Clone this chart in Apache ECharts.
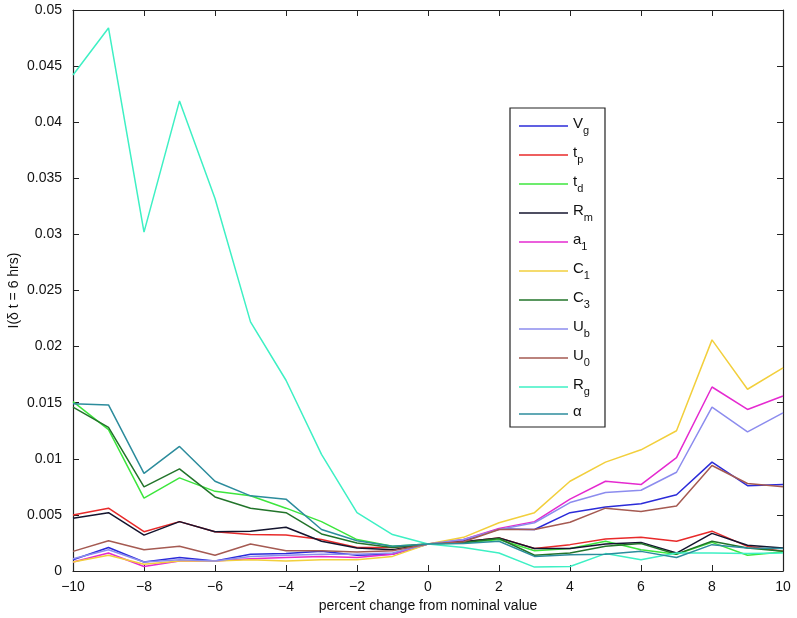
<!DOCTYPE html>
<html>
<head>
<meta charset="utf-8">
<script src="https://cdn.jsdelivr.net/npm/echarts@6/dist/echarts.min.js"></script>
<style>html,body{margin:0;padding:0;background:#fff}#c{width:797px;height:618px}</style>
</head>
<body>
<div id="c"></div>
<script>
const xValues = [-10,-9,-8,-7,-6,-5,-4,-3,-2,-1,0,1,2,3,4,5,6,7,8,9,10];
const xTicks = [-10,-8,-6,-4,-2,0,2,4,6,8,10];
const yTicks = [0,0.005,0.01,0.015,0.02,0.025,0.03,0.035,0.04,0.045,0.05];

const Vg = [0.0010,0.0021,0.0008,0.0012,0.0009,0.0015,0.00155,0.00175,0.0014,0.0015,0.0024,0.0027,0.00375,0.0037,0.0052,0.0057,0.0060,0.0068,0.0097,0.0076,0.0077];
const tp = [0.0050,0.0056,0.0035,0.0044,0.0035,0.00325,0.0032,0.0028,0.0021,0.0021,0.0024,0.0026,0.00295,0.0020,0.00235,0.00285,0.0030,0.00265,0.00355,0.0022,0.00175];
const td = [0.0151,0.0126,0.0065,0.0083,0.0071,0.0067,0.0056,0.0044,0.0028,0.0022,0.0024,0.0025,0.0028,0.0018,0.0020,0.00265,0.0019,0.0015,0.00255,0.0014,0.0017];
const Rm = [0.0047,0.0052,0.0032,0.0044,0.0035,0.00355,0.0039,0.00265,0.00205,0.0019,0.0024,0.0026,0.00295,0.0020,0.0020,0.0024,0.00255,0.0016,0.00335,0.0023,0.00205];
const a1 = [0.0008,0.0016,0.0004,0.0009,0.0009,0.0011,0.0012,0.0013,0.0012,0.0015,0.0024,0.0028,0.0038,0.0044,0.0064,0.0080,0.0077,0.0101,0.0164,0.0144,0.0156];
const C1 = [0.0008,0.0014,0.0006,0.0009,0.0009,0.0010,0.0009,0.0010,0.0010,0.0013,0.0024,0.0030,0.0043,0.0052,0.0080,0.0097,0.0108,0.0125,0.0206,0.0162,0.0181];
const C3 = [0.0146,0.0128,0.0075,0.0091,0.0066,0.0056,0.0052,0.0033,0.0025,0.0021,0.0024,0.00255,0.0029,0.0014,0.0016,0.0022,0.00245,0.0015,0.00265,0.00205,0.00175];
const Ub = [0.0011,0.0019,0.0008,0.0010,0.0009,0.0013,0.0014,0.0015,0.0015,0.0016,0.0024,0.0028,0.0037,0.0043,0.0061,0.0070,0.0072,0.0088,0.0146,0.0124,0.0141];
const U0 = [0.00175,0.0027,0.0019,0.0022,0.0014,0.0024,0.0018,0.0018,0.0017,0.0018,0.0024,0.0026,0.0037,0.0037,0.00435,0.0056,0.0053,0.0058,0.0094,0.0078,0.0075];
const Rg = [0.0442,0.0484,0.0302,0.0419,0.0332,0.0222,0.0170,0.0104,0.0052,0.00325,0.0024,0.0021,0.0016,0.00035,0.0004,0.00155,0.0010,0.0016,0.0016,0.00155,0.0016];
const alpha = [0.0149,0.0148,0.0087,0.0111,0.0080,0.0067,0.0064,0.0037,0.0027,0.0022,0.0024,0.00245,0.00265,0.0013,0.00145,0.0015,0.00175,0.0012,0.00235,0.00205,0.0020];

const seriesDefs = [
  {name:'V_g', data:Vg, color:'#2b2bd9'},
  {name:'t_p', data:tp, color:'#e82a2a'},
  {name:'t_d', data:td, color:'#3de63d'},
  {name:'R_m', data:Rm, color:'#14142e'},
  {name:'a_1', data:a1, color:'#e52ad0'},
  {name:'C_1', data:C1, color:'#f2cf3c'},
  {name:'C_3', data:C3, color:'#22742a'},
  {name:'U_b', data:Ub, color:'#8c8cee'},
  {name:'U_0', data:U0, color:'#a55a52'},
  {name:'R_g', data:Rg, color:'#3ef0c4'},
  {name:'α', data:alpha, color:'#2c8c9c'}
];

const font = 'Liberation Sans, Arial, Helvetica, sans-serif';
const chart = echarts.init(document.getElementById('c'), null, {renderer:'canvas'});
const minus = v => String(v).replace('-', '\u2212');

chart.setOption({
  animation:false,
  backgroundColor:'#fff',
  grid:{left:73, right:14, top:10, bottom:47, containLabel:false, outerBoundsMode:'none'},
  legend:{
    orient:'vertical', left:510, top:108,
    backgroundColor:'#fff', borderColor:'#222', borderWidth:1.2,
    padding:[6,12,8,9], itemGap:7.0, itemWidth:49, itemHeight:20,
    icon:'path://M0,0 L49,0 L49,1.6 L0,1.6 Z',
    data: seriesDefs.map(s=>s.name),
    formatter: n => {
      const p = n.split('_');
      return p.length > 1 ? '{m|' + p[0] + '}{s|' + p[1] + '}' : '{m|' + p[0] + '}';
    },
    textStyle:{
      fontFamily:font, color:'#111', padding:[0,0,0,0],
      rich:{
        m:{fontSize:15, fontFamily:font, color:'#111', lineHeight:20, verticalAlign:'top'},
        s:{fontSize:11, fontFamily:font, color:'#111', lineHeight:20, verticalAlign:'bottom', padding:[11,0,0,0]}
      }
    }
  },
  xAxis:[{
    type:'value', min:-10, max:10, interval:2, position:'bottom',
    name:'percent change from nominal value', nameLocation:'middle', nameGap:28,
    nameTextStyle:{fontFamily:font, fontSize:14, color:'#111'},
    axisLine:{show:true, onZero:false, lineStyle:{color:'#222', width:1.2}},
    axisTick:{show:true, inside:true, length:6, lineStyle:{color:'#222'}},
    axisLabel:{fontFamily:font, fontSize:14, color:'#111', margin:9, formatter:minus},
    splitLine:{show:false}
  },{
    type:'value', min:-10, max:10, interval:2, position:'top',
    axisLine:{show:true, onZero:false, lineStyle:{color:'#222', width:1.2}},
    axisTick:{show:true, inside:true, length:6, lineStyle:{color:'#222'}},
    axisLabel:{show:false}, splitLine:{show:false}
  }],
  yAxis:[{
    type:'value', min:0, max:0.05, interval:0.005, position:'left',
    name:'I(δ t = 6 hrs)', nameLocation:'middle', nameGap:52, nameMoveOverlap:false,
    nameTextStyle:{fontFamily:font, fontSize:14, color:'#111'},
    axisLine:{show:true, onZero:false, lineStyle:{color:'#222', width:1.2}},
    axisTick:{show:true, inside:true, length:6, lineStyle:{color:'#222'}},
    axisLabel:{fontFamily:font, fontSize:14, color:'#111', margin:11},
    splitLine:{show:false}
  },{
    type:'value', min:0, max:0.05, interval:0.005, position:'right',
    axisLine:{show:true, onZero:false, lineStyle:{color:'#222', width:1.2}},
    axisTick:{show:true, inside:true, length:6, lineStyle:{color:'#222'}},
    axisLabel:{show:false}, splitLine:{show:false}
  }],
  series: seriesDefs.map(s => ({
    name:s.name, type:'line', xAxisIndex:0, yAxisIndex:0,
    data: xValues.map((x,i)=>[x, s.data[i]]),
    symbol:'none', showSymbol:false,
    lineStyle:{color:s.color, width:1.5},
    itemStyle:{color:s.color},
    emphasis:{disabled:true}
  }))
});
</script>
</body>
</html>
